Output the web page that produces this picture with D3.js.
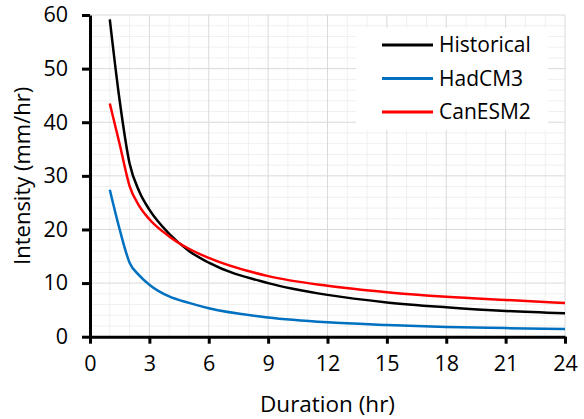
<!DOCTYPE html>
<html>
<head>
<meta charset="utf-8">
<script src="https://cdn.jsdelivr.net/npm/d3@7"></script>
<style>
  body { margin: 0; background: #fff; }
  text { font-family: "Open Sans", sans-serif; fill: #000; }
</style>
</head>
<body>
<script>
// durations (hr) and intensities (mm/hr)
let durations  = [1, 1.5, 2, 2.5, 3, 4, 5, 6, 9, 12, 15, 18, 21, 24];
let historical = [59.2, 44.0, 32.3, 27.0, 23.7, 19.2, 16.0, 13.8, 10.0, 7.8, 6.4, 5.5, 4.8, 4.35];
let hadcm3     = [27.4, 20.0, 13.8, 11.4, 9.7, 7.5, 6.3, 5.3, 3.6, 2.7, 2.2, 1.8, 1.6, 1.45];
let canesm2    = [43.5, 35.9, 28.1, 24.3, 21.9, 18.7, 16.4, 14.7, 11.3, 9.5, 8.3, 7.45, 6.85, 6.3];

let series_names  = ["Historical", "HadCM3", "CanESM2"];
let series_values = [historical, hadcm3, canesm2];
let series_colors = ["#000000", "#0070C0", "#FF0000"];

let x_ticks = [0, 3, 6, 9, 12, 15, 18, 21, 24];
let y_ticks = [0, 10, 20, 30, 40, 50, 60];

let width = 584, height = 419;
let margin = { top: 15, right: 19, bottom: 82, left: 90 };

let svg = d3.select("body").append("svg")
    .attr("width", width)
    .attr("height", height);

let x = d3.scaleLinear()
    .domain([0, 24])
    .range([margin.left, width - margin.right]);
let y = d3.scaleLinear()
    .domain([0, 60])
    .range([height - margin.bottom - 0.3, margin.top]);

// minor grid
let grid = svg.append("g");
grid.selectAll(".vminor")
  .data(d3.range(1, 24).filter(d => d % 3 != 0))
  .join("line")
    .attr("x1", d => x(d)).attr("x2", d => x(d))
    .attr("y1", y(0)).attr("y2", y(60))
    .attr("stroke", "#f0f0f0").attr("stroke-width", 1);
grid.selectAll(".hminor")
  .data(d3.range(2, 60, 2).filter(d => d % 10 != 0))
  .join("line")
    .attr("x1", x(0)).attr("x2", x(24))
    .attr("y1", d => y(d)).attr("y2", d => y(d))
    .attr("stroke", "#f0f0f0").attr("stroke-width", 1);
// major grid
grid.append("g").selectAll("line")
  .data(x_ticks.slice(1))
  .join("line")
    .attr("x1", d => x(d)).attr("x2", d => x(d))
    .attr("y1", y(0)).attr("y2", y(60))
    .attr("stroke", "#d9d9d9").attr("stroke-width", 1);
grid.append("g").selectAll("line")
  .data(y_ticks.slice(1))
  .join("line")
    .attr("x1", x(0)).attr("x2", x(24))
    .attr("y1", d => y(d)).attr("y2", d => y(d))
    .attr("stroke", "#d9d9d9").attr("stroke-width", 1);

// series
let line = d3.line()
    .x(d => x(d[0]))
    .y(d => y(d[1]))
    .curve(d3.curveMonotoneX);

series_values.forEach((vals, i) => {
  svg.append("path")
    .datum(durations.map((d, j) => [d, vals[j]]))
    .attr("fill", "none")
    .attr("stroke", series_colors[i])
    .attr("stroke-width", 2.5)
    .attr("d", line);
});

// axes
let x_axis = svg.append("g")
    .attr("transform", `translate(0,${y(0)})`)
    .call(d3.axisBottom(x).tickValues(x_ticks).tickSize(7).tickSizeOuter(0).tickPadding(12));
let y_axis = svg.append("g")
    .attr("transform", `translate(${x(0)},0)`)
    .call(d3.axisLeft(y).tickValues(y_ticks).tickSize(8).tickSizeOuter(0).tickPadding(14));

[x_axis, y_axis].forEach(a => {
  a.select(".domain").attr("stroke", "#000").attr("stroke-width", 3);
  a.selectAll(".tick line").attr("stroke", "#000").attr("stroke-width", 3);
  a.selectAll(".tick text")
    .attr("font-family", "Open Sans").attr("font-size", 21.5).attr("fill", "#000");
});

// axis titles
svg.append("text")
    .attr("x", (x(0) + x(24)) / 2)
    .attr("y", 412)
    .attr("text-anchor", "middle")
    .attr("font-size", 22.5)
    .text("Duration (hr)");
svg.append("text")
    .attr("transform", `translate(30,${(y(0) + y(60)) / 2}) rotate(-90)`)
    .attr("text-anchor", "middle")
    .attr("font-size", 22)
    .text("Intensity (mm/hr)");

// legend
let legend = svg.append("g");
legend.append("rect")
    .attr("x", 356).attr("y", 28)
    .attr("width", 192).attr("height", 102)
    .attr("fill", "#fff");
series_names.forEach((name, i) => {
  let ly = 45 + i * 33.5;
  legend.append("line")
    .attr("x1", 382).attr("x2", 433)
    .attr("y1", ly).attr("y2", ly)
    .attr("stroke", series_colors[i]).attr("stroke-width", 3);
  legend.append("text")
    .attr("x", 439).attr("y", ly)
    .attr("dy", "0.35em")
    .attr("font-size", 21)
    .text(name);
});
</script>
</body>
</html>
